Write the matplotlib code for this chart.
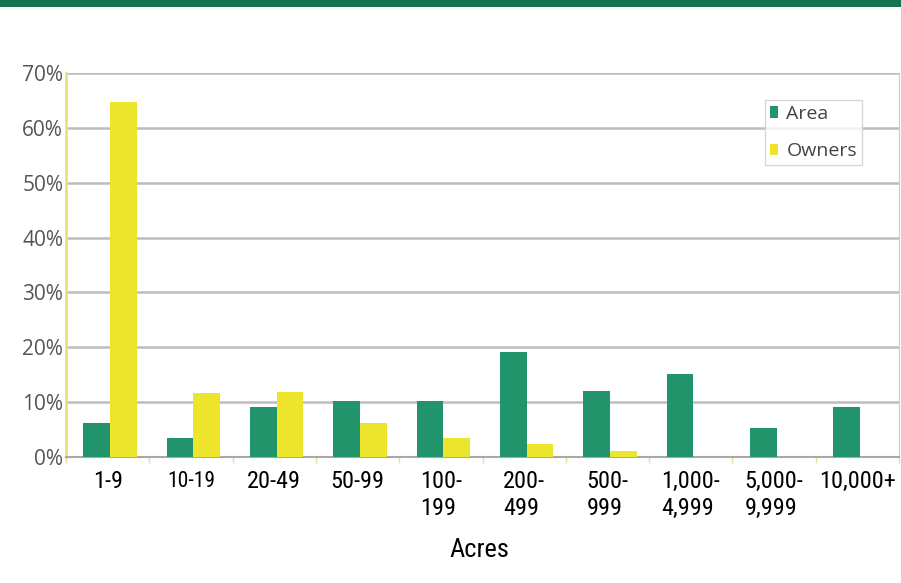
import numpy as np
import matplotlib
matplotlib.use('Agg')
from matplotlib import pyplot as plt
from matplotlib import font_manager

categories = ['1-9', '10-19', '20-49', '50-99', '100-\n199', '200-\n499',
              '500-\n999', '1,000-\n4,999', '5,000-\n9,999', '10,000+']
area = [6.2, 3.5, 9.1, 10.2, 10.2, 19.1, 12.0, 15.1, 5.3, 9.1]
owners = [64.8, 11.6, 11.8, 6.2, 3.5, 2.4, 1.1, 0.0, 0.0, 0.0]
yticks = [0, 10, 20, 30, 40, 50, 60, 70]

GREEN = '#22946c'
YELLOW = '#ede52c'
BAND = '#13744f'

# pick a condensed face for the category labels if one is around
names = {f.name for f in font_manager.fontManager.ttflist}
narrow = font_manager.FontProperties(family='DejaVu Sans', stretch='condensed')
for cand in ['Liberation Sans Narrow', 'Roboto Condensed', 'Open Sans Condensed']:
    if cand in names:
        narrow = font_manager.FontProperties(family=cand)
        break

fig = plt.figure(figsize=(9.01, 5.83), dpi=100)
fig.patch.set_facecolor('white')

# header band
fig.add_artist(plt.Rectangle((0, 1 - 7 / 583), 1, 7 / 583, transform=fig.transFigure,
                             color=BAND, lw=0))

ax = fig.add_axes([66 / 901, 126 / 583, 833 / 901, 384 / 583])
x = np.arange(len(categories))
w = 0.32
ax.bar(x - w / 2 + 0.03, area, w, color=GREEN, label='Area', zorder=3)
ax.bar(x + w / 2 + 0.03, owners, w, color=YELLOW, label='Owners', zorder=3)

ax.set_xlim(-0.5, len(categories) - 0.5)
ax.set_ylim(0, 70)
ax.set_yticks(yticks)
ax.set_yticklabels([f'{v}%' for v in yticks], family=['Open Sans', 'DejaVu Sans'],
                   fontsize=15, color='#555555')
ax.yaxis.grid(True, color='#bdbdbd', lw=1.8, zorder=0)
ax.tick_params(axis='y', length=0, pad=2)

ax.set_xticks(np.arange(len(categories) + 1) - 0.5, minor=True)
ax.set_xticks(x)
ax.set_xticklabels([])
ax.tick_params(axis='x', which='major', length=0)
ax.tick_params(axis='x', which='minor', length=4, color='#e6e0a0', width=1)

for i, lab in enumerate(categories):
    fp = narrow.copy()
    fp.set_size(15.5 if lab == '10-19' else 17.5)
    ax.text(i, -2.6 if lab == '10-19' else -2.3, lab, ha='center', va='top',
            multialignment='left', fontproperties=fp, linespacing=1.25,
            color='black', clip_on=False)
fp = narrow.copy()
fp.set_size(19)
ax.text(0.4965, -0.243, 'Acres', ha='center', va='center', fontproperties=fp,
        transform=ax.transAxes)

ax.spines['left'].set_color('#e8e27a')
ax.spines['left'].set_linewidth(2)
ax.spines['bottom'].set_color('#a8a8a8')
ax.spines['bottom'].set_linewidth(1.5)
ax.spines['top'].set_visible(False)
ax.spines['right'].set_color('#cccccc')

leg = ax.legend(loc='upper left', bbox_to_anchor=(699 / 833, 357 / 384), frameon=True,
                fancybox=False, edgecolor='#cccccc', handlelength=0.4, handleheight=0.5,
                handletextpad=0.45, labelspacing=1.0, borderpad=0.25, borderaxespad=0,
                prop={'family': ['Open Sans', 'DejaVu Sans'], 'size': 14})
leg.get_frame().set_linewidth(1)
for t in leg.get_texts():
    t.set_color('#444444')
leg.set_zorder(5)

fig.savefig('out.png', dpi=100)
